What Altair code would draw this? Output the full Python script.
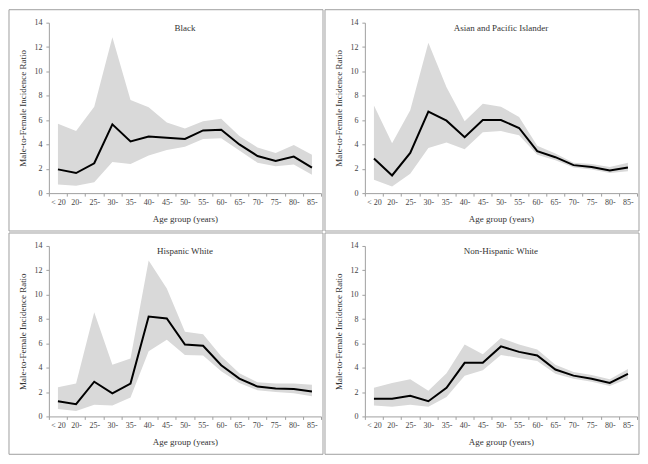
import altair as alt
import pandas as pd

ages = ["< 20", "20-", "25-", "30-", "35-", "40-", "45-", "50-", "55-", "60-",
        "65-", "70-", "75-", "80-", "85-"]

races = ["Black", "Asian and Pacific Islander", "Hispanic White", "Non-Hispanic White"]

black_ratio = [1.95, 1.65, 2.45, 5.65, 4.25, 4.65, 4.55, 4.45, 5.15, 5.2, 4.0, 3.05, 2.65, 3.0, 2.1]
black_lower = [0.7, 0.6, 0.9, 2.55, 2.4, 3.1, 3.55, 3.8, 4.45, 4.5, 3.5, 2.5, 2.2, 2.35, 1.5]
black_upper = [5.7, 5.1, 7.1, 12.8, 7.65, 7.05, 5.8, 5.3, 5.9, 6.1, 4.7, 3.75, 3.3, 3.95, 3.15]

asian_ratio = [2.85, 1.45, 3.3, 6.7, 5.95, 4.6, 6.0, 6.0, 5.35, 3.45, 2.95, 2.3, 2.15, 1.85, 2.1]
asian_lower = [1.1, 0.55, 1.6, 3.7, 4.15, 3.6, 5.0, 5.1, 4.75, 3.15, 2.7, 2.1, 1.95, 1.65, 1.8]
asian_upper = [7.2, 4.1, 6.8, 12.35, 8.7, 5.9, 7.35, 7.1, 6.25, 3.9, 3.25, 2.5, 2.4, 2.15, 2.5]

hisp_ratio = [1.25, 1.0, 2.85, 1.9, 2.7, 8.2, 8.05, 5.9, 5.8, 4.2, 3.1, 2.45, 2.3, 2.25, 2.05]
hisp_lower = [0.6, 0.45, 0.95, 0.9, 1.55, 5.35, 6.3, 5.05, 5.0, 3.7, 2.75, 2.15, 2.0, 1.9, 1.65]
hisp_upper = [2.4, 2.7, 8.55, 4.25, 4.75, 12.8, 10.5, 6.95, 6.75, 4.95, 3.55, 2.8, 2.7, 2.7, 2.6]

nhw_ratio = [1.45, 1.45, 1.7, 1.25, 2.35, 4.4, 4.4, 5.75, 5.3, 5.0, 3.85, 3.35, 3.1, 2.75, 3.5]
nhw_lower = [0.9, 0.8, 0.95, 0.8, 1.6, 3.35, 3.8, 5.05, 4.8, 4.55, 3.5, 3.1, 2.85, 2.5, 3.1]
nhw_upper = [2.35, 2.75, 3.05, 2.1, 3.55, 5.9, 5.1, 6.45, 5.9, 5.5, 4.25, 3.65, 3.4, 3.05, 3.9]

y_ticks = [0, 2, 4, 6, 8, 10, 12, 14]

series = {
    "Black": (black_ratio, black_lower, black_upper),
    "Asian and Pacific Islander": (asian_ratio, asian_lower, asian_upper),
    "Hispanic White": (hisp_ratio, hisp_lower, hisp_upper),
    "Non-Hispanic White": (nhw_ratio, nhw_lower, nhw_upper),
}

rows = []
for race in races:
    r, lo, up = series[race]
    for a, v, l, u in zip(ages, r, lo, up):
        rows.append({"race": race, "age": a, "ratio": v, "lower": l, "upper": u})
df = pd.DataFrame(rows)

W, H = 273, 171
L, R, T, B = 40, 2, 13, 38
FONT = "Liberation Serif"


def panel(race):
    d = df[df["race"] == race]
    xenc = alt.X(
        "age:N",
        sort=ages,
        scale=alt.Scale(type="band", paddingInner=0, paddingOuter=0),
        bandPosition=0.5,
        axis=alt.Axis(title="Age group (years)", labelAngle=0, tickBand="extent"),
    )
    yscale = alt.Scale(domain=[0, 14], nice=False)
    yaxis = alt.Axis(title="Male-to-Female Incidence Ratio", values=y_ticks)
    base = alt.Chart(d)
    area = base.mark_area(color="#d9d9d9", opacity=1).encode(
        x=xenc, y=alt.Y("lower:Q", scale=yscale, axis=yaxis), y2="upper:Q"
    )
    line = base.mark_line(color="black", strokeWidth=2).encode(
        x=xenc, y=alt.Y("ratio:Q", scale=yscale, axis=yaxis)
    )
    lab = pd.DataFrame({"race": [race]})
    title = alt.Chart(lab).mark_text(
        font=FONT, fontSize=9, baseline="alphabetic", align="center", color="#333"
    ).encode(x=alt.value(W / 2), y=alt.value(8), text="race:N")
    border = alt.Chart(lab).mark_rect(
        filled=False, stroke="#a0a0a0", strokeWidth=1
    ).encode(
        x=alt.value(-L), x2=alt.value(W + R), y=alt.value(-T), y2=alt.value(H + B)
    )
    return alt.layer(area, line, title, border).properties(width=W, height=H)


chart = (
    alt.concat(*[panel(r) for r in races], columns=2, spacing=0)
    .properties(padding=0)
    .configure_view(strokeWidth=0)
    .configure_axis(
        grid=False,
        domainColor="#a0a0a0",
        tickColor="#a0a0a0",
        tickSize=3,
        labelFont=FONT,
        labelFontSize=8,
        labelColor="#444",
        titleFont=FONT,
        titleFontSize=9,
        titleFontWeight="normal",
        titleColor="#333",
    )
    .configure_axisX(labelPadding=2, titlePadding=8)
    .configure_axisY(labelPadding=4, titlePadding=6)
)

chart.save("out.html", embed_options={"renderer": "svg", "actions": False})
